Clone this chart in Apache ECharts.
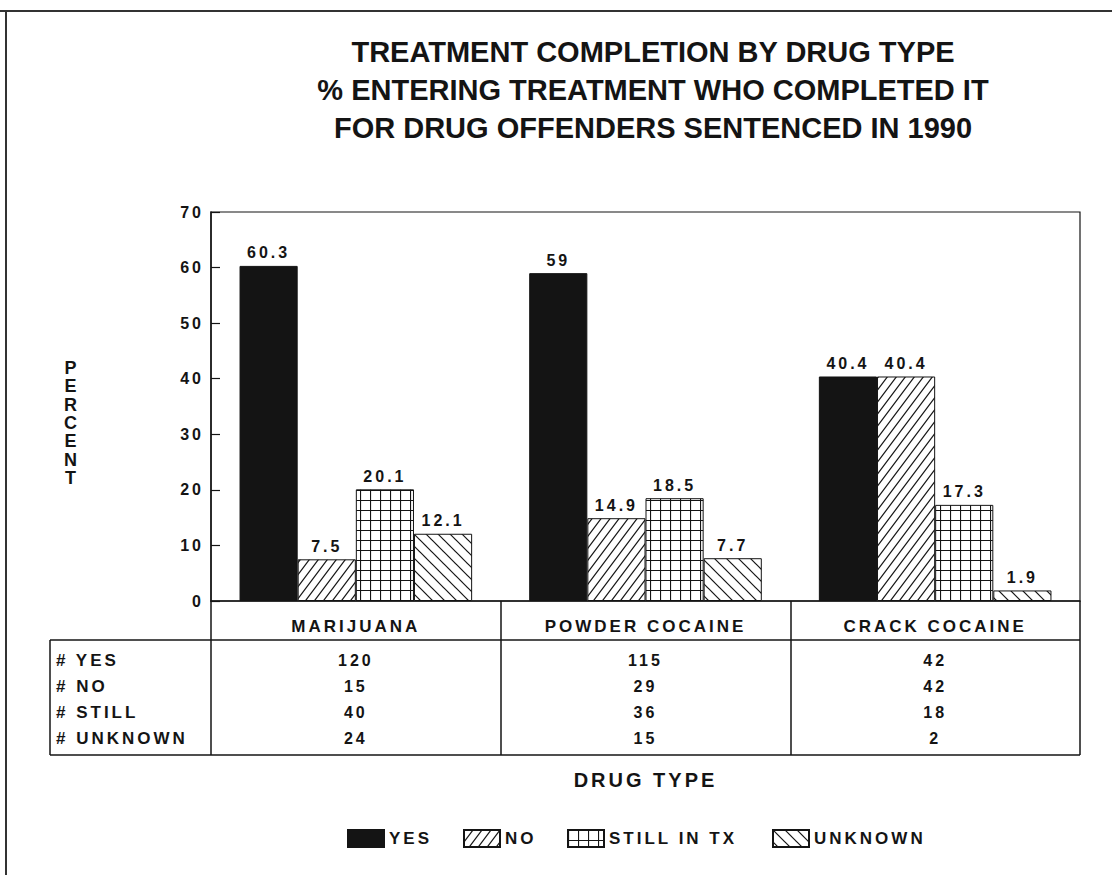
<!DOCTYPE html>
<html>
<head>
<meta charset="utf-8">
<script src="https://cdn.jsdelivr.net/npm/echarts@6/dist/echarts.min.js"></script>
<style>
  html, body { margin: 0; padding: 0; background: #fff; }
  #chart { width: 1112px; height: 875px; }
  /* the lettering of axes, labels, table and legend is widely spaced */
  #chart text[style*="Helvetica"] { letter-spacing: 3px; }
</style>
</head>
<body>
<div id="chart"></div>
<script>
// ---- data ----
const categories = ['MARIJUANA', 'POWDER COCAINE', 'CRACK COCAINE'];
const seriesNames = ['YES', 'NO', 'STILL IN TX', 'UNKNOWN'];

// percent of those entering treatment
const pctYes     = [60.3, 59, 40.4];
const pctNo      = [7.5, 14.9, 40.4];
const pctStill   = [20.1, 18.5, 17.3];
const pctUnknown = [12.1, 7.7, 1.9];

// counts shown in the table under the axis
const rowLabels    = ['# YES', '# NO', '# STILL', '# UNKNOWN'];
const countYes     = [120, 115, 42];
const countNo      = [15, 29, 42];
const countStill   = [40, 36, 18];
const countUnknown = [24, 15, 2];

const yMin = 0, yMax = 70, yStep = 10;
const yAxisTitle = 'PERCENT';

// ---- styling helpers ----
const INK = '#141414';
const SPACED = "Helvetica, 'Liberation Sans', Arial, sans-serif";
const PLAIN = "'Liberation Sans', Arial, sans-serif";

function tile(w, h, draw) {
  const c = document.createElement('canvas');
  c.width = w; c.height = h;
  const g = c.getContext('2d');
  g.fillStyle = '#fff';
  g.fillRect(0, 0, w, h);
  g.strokeStyle = INK;
  g.lineWidth = 1.2;
  draw(g, w, h);
  return { image: c, repeat: 'repeat' };
}
// "/" hatching
const fillNo = tile(9, 12, (g, w, h) => {
  for (const dx of [-w, 0, w]) {
    g.beginPath(); g.moveTo(dx - w / 2, h * 1.5); g.lineTo(dx + w * 1.5, -h / 2); g.stroke();
  }
});
// square grid
const fillStill = tile(10, 10, (g, w, h) => {
  g.beginPath();
  g.moveTo(0.5, 0); g.lineTo(0.5, h);
  g.moveTo(0, 0.5); g.lineTo(w, 0.5);
  g.stroke();
});
// "\" hatching
const fillUnknown = tile(12, 12, (g, w, h) => {
  for (const dx of [-w, 0, w]) {
    g.beginPath(); g.moveTo(dx - w / 2, -h / 2); g.lineTo(dx + w * 1.5, h * 1.5); g.stroke();
  }
});
const fillYes = INK;

function barSeries(name, data, fill) {
  return {
    name, type: 'bar', data,
    barGap: '0%', barCategoryGap: '19.7%',
    itemStyle: { color: fill, borderColor: INK, borderWidth: 1 },
    label: {
      show: true, position: 'top', distance: 5,
      color: INK, fontSize: 16, fontWeight: 'bold', fontFamily: SPACED
    },
    emphasis: { disabled: true },
    silent: true
  };
}

const countRows = [countYes, countNo, countStill, countUnknown];

// one legend block per series so the widely spaced captions keep their room
const legendLeft = [347, 463, 567, 772];
const legends = seriesNames.map((n, i) => ({
  data: [n], left: legendLeft[i], top: 829, padding: 0,
  itemWidth: 36, itemHeight: 17, icon: 'rect', selectedMode: false,
  textStyle: { fontFamily: SPACED, fontSize: 17, fontWeight: 'bold', color: INK }
}));

const chart = echarts.init(document.getElementById('chart'), null, { renderer: 'svg' });

chart.setOption({
  animation: false,
  backgroundColor: '#fff',
  title: {
    text: 'TREATMENT COMPLETION BY DRUG TYPE\n% ENTERING TREATMENT WHO COMPLETED IT\nFOR DRUG OFFENDERS SENTENCED IN 1990',
    left: 648, top: 28, textAlign: 'center',
    textStyle: { fontFamily: PLAIN, fontSize: 29, fontWeight: 'bold', color: INK, lineHeight: 38 }
  },
  grid: {
    left: 211, right: 32, top: 212, bottom: 274,
    show: true, borderColor: INK, borderWidth: 1.2
  },
  xAxis: {
    type: 'category', data: categories, boundaryGap: true,
    axisLine: { lineStyle: { color: INK, width: 1.5 } },
    axisTick: { show: true, length: 154, lineStyle: { color: INK, width: 1.5 } },
    axisLabel: {
      interval: 0, margin: 4,
      formatter: (v, i) => `{h|${v}}\n` + countRows.map(r => `{n|${r[i]}}`).join('\n'),
      rich: {
        h: { fontFamily: SPACED, fontSize: 17, fontWeight: 'bold', color: INK, lineHeight: 42 },
        n: { fontFamily: SPACED, fontSize: 16, fontWeight: 'bold', color: INK, lineHeight: 26 }
      }
    },
    name: 'DRUG TYPE', nameLocation: 'middle', nameGap: 169,
    nameTextStyle: { fontFamily: SPACED, fontSize: 20, fontWeight: 'bold', color: INK }
  },
  yAxis: {
    type: 'value', min: yMin, max: yMax, interval: yStep,
    axisLine: { show: true, lineStyle: { color: INK, width: 1.5 } },
    axisTick: { show: true, inside: true, length: 9, lineStyle: { color: INK, width: 1.2 } },
    splitLine: { show: false },
    axisLabel: { margin: 7, fontFamily: SPACED, fontSize: 16, fontWeight: 'bold', color: INK }
  },
  legend: legends,
  series: [
    barSeries(seriesNames[0], pctYes, fillYes),
    barSeries(seriesNames[1], pctNo, fillNo),
    barSeries(seriesNames[2], pctStill, fillStill),
    barSeries(seriesNames[3], pctUnknown, fillUnknown)
  ],
  graphic: [
    // page frame
    { type: 'line', silent: true, shape: { x1: 0, y1: 11, x2: 1112, y2: 11 }, style: { stroke: '#333', lineWidth: 2 } },
    { type: 'line', silent: true, shape: { x1: 6, y1: 11, x2: 6, y2: 875 }, style: { stroke: '#333', lineWidth: 2 } },
    // count table rules
    { type: 'line', silent: true, shape: { x1: 50, y1: 640, x2: 1080, y2: 640 }, style: { stroke: INK, lineWidth: 1.5 } },
    { type: 'line', silent: true, shape: { x1: 50, y1: 755, x2: 1080, y2: 755 }, style: { stroke: INK, lineWidth: 1.5 } },
    { type: 'line', silent: true, shape: { x1: 50, y1: 640, x2: 50, y2: 755 }, style: { stroke: INK, lineWidth: 1.5 } },
    ...rowLabels.map((t, i) => ({
      type: 'text', silent: true, x: 56, y: 660 + 26 * i,
      style: { text: t, fontFamily: SPACED, fontSize: 17, fontWeight: 'bold', fill: INK, verticalAlign: 'middle' }
    })),
    // stacked y-axis title
    {
      type: 'text', silent: true, x: 72, y: 359,
      style: {
        text: yAxisTitle.split('').join('\n'), align: 'center', verticalAlign: 'top',
        fontFamily: SPACED, fontSize: 18, fontWeight: 'bold', fill: INK, lineHeight: 18.3
      }
    }
  ]
});
</script>
</body>
</html>
